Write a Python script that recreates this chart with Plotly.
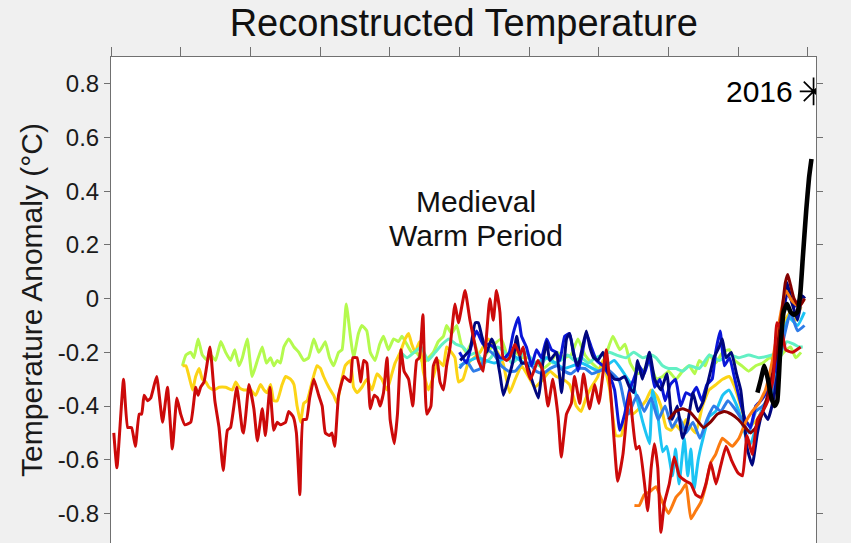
import plotly.graph_objects as go

# ---------------- data (year, anomaly °C) ----------------
red_years = [8,17,36,48,59,70,81,88,95,105,114,131,148,162,176,189,200,212,229,243,250,257,267,284,298,310,322,334,343,361,377,381,396,410,420,434,443,456,467,477,486,501,510,523,532,542,551,561,570,582,596,606,615,627,634,642,653,668,677,687,694,706,717,725,734,744,755,765,772,782,792,801,813,822,832,841,854,866,877,885,895,906,918,925,935,944,954,963,973,987,997,1016,1030,1044,1054,1068,1078,1087,1097,1106,1116,1125,1135,1144,1159,1173,1183,1192,1204,1216,1225,1240,1254,1268,1283,1292,1307,1321,1330,1345,1356,1373,1388,1400,1421,1435,1454,1469,1478,1488,1497,1507,1516,1531,1540,1550,1559,1569,1578,1588,1602,1616,1631,1650,1664,1678,1693,1707,1721,1736,1750,1765,1780,1800,1812,1825,1840,1855,1870,1885,1900,1911,1925,1936,1955,1979]
red_vals = [-0.50,-0.63,-0.30,-0.48,-0.48,-0.55,-0.43,-0.43,-0.36,-0.38,-0.37,-0.29,-0.46,-0.33,-0.56,-0.37,-0.43,-0.47,-0.46,-0.33,-0.36,-0.33,-0.31,-0.18,-0.38,-0.48,-0.64,-0.49,-0.48,-0.33,-0.49,-0.50,-0.32,-0.41,-0.53,-0.41,-0.51,-0.33,-0.49,-0.46,-0.47,-0.46,-0.42,-0.44,-0.50,-0.73,-0.45,-0.45,-0.37,-0.30,-0.36,-0.40,-0.50,-0.51,-0.50,-0.55,-0.36,-0.29,-0.30,-0.31,-0.22,-0.22,-0.31,-0.23,-0.24,-0.41,-0.36,-0.37,-0.40,-0.35,-0.22,-0.45,-0.54,-0.43,-0.19,-0.27,-0.30,-0.40,-0.23,-0.22,-0.06,-0.43,-0.40,-0.25,-0.22,-0.31,-0.34,-0.25,-0.18,-0.02,-0.09,0.03,-0.08,-0.17,-0.23,-0.27,-0.13,0.00,-0.08,0.03,-0.05,-0.22,-0.23,-0.22,-0.17,-0.21,-0.18,-0.25,-0.30,-0.26,-0.23,-0.27,-0.40,-0.30,-0.44,-0.59,-0.43,-0.39,-0.29,-0.39,-0.28,-0.41,-0.32,-0.39,-0.19,-0.37,-0.68,-0.58,-0.46,-0.35,-0.46,-0.56,-0.55,-0.69,-0.79,-0.63,-0.54,-0.63,-0.87,-0.76,-0.69,-0.59,-0.66,-0.68,-0.69,-0.73,-0.74,-0.69,-0.61,-0.69,-0.62,-0.55,-0.60,-0.65,-0.66,-0.51,-0.58,-0.45,-0.42,-0.38,-0.30,-0.09,-0.12,-0.19,-0.20,-0.18]

green_years = [205,215,229,238,250,262,277,286,300,315,329,343,355,367,377,391,405,420,434,446,458,467,477,486,496,510,525,539,553,567,582,596,606,615,627,639,653,663,675,687,696,710,720,734,744,758,771,782,796,811,825,835,849,863,877,896,911,925,939,954,963,977,992,1005,1020,1040,1060,1080,1100,1120,1140,1160,1180,1200,1220,1240,1260,1280,1300,1320,1340,1360,1380,1400,1420,1440,1460,1475,1490,1510,1526,1545,1565,1583,1600,1621,1640,1659,1675,1688,1705,1717,1735,1755,1774,1790,1810,1830,1850,1870,1890,1910,1930,1950,1965,1980]
green_vals = [-0.25,-0.21,-0.20,-0.22,-0.15,-0.21,-0.23,-0.21,-0.23,-0.16,-0.20,-0.23,-0.19,-0.25,-0.22,-0.15,-0.29,-0.23,-0.18,-0.24,-0.22,-0.25,-0.23,-0.24,-0.18,-0.15,-0.18,-0.20,-0.23,-0.22,-0.15,-0.20,-0.18,-0.16,-0.22,-0.25,-0.20,-0.19,-0.02,-0.14,-0.22,-0.13,-0.10,-0.12,-0.20,-0.23,-0.17,-0.14,-0.19,-0.15,-0.16,-0.14,-0.17,-0.20,-0.20,-0.24,-0.22,-0.20,-0.16,-0.14,-0.10,-0.13,-0.10,-0.17,-0.20,-0.15,-0.24,-0.20,-0.17,-0.15,-0.22,-0.20,-0.22,-0.22,-0.24,-0.26,-0.24,-0.20,-0.22,-0.21,-0.15,-0.21,-0.24,-0.26,-0.21,-0.14,-0.19,-0.17,-0.24,-0.28,-0.27,-0.24,-0.30,-0.29,-0.27,-0.30,-0.27,-0.25,-0.28,-0.23,-0.25,-0.21,-0.24,-0.20,-0.19,-0.23,-0.25,-0.27,-0.25,-0.24,-0.22,-0.23,-0.20,-0.18,-0.22,-0.20]

yellow_years = [205,215,224,234,243,253,262,272,281,296,310,329,348,358,367,381,401,415,429,439,448,458,467,477,491,501,515,525,534,544,553,563,577,591,601,610,625,639,649,658,672,687,696,706,720,734,749,763,777,792,806,815,830,844,854,863,873,885,896,911,925,939,954,963,977,987,997,1010,1025,1059,1082,1101,1125,1144,1160,1178,1202,1216,1240,1260,1278,1297,1316,1335,1349,1363,1378,1397,1411,1430,1449,1464,1480,1497,1515,1535,1550,1565,1578,1593,1607,1620,1635,1650,1664,1678,1697,1716,1736,1755,1774,1790,1807,1821,1838,1855,1875,1895,1915,1935,1950,1965,1980]
yellow_vals = [-0.25,-0.25,-0.29,-0.34,-0.29,-0.26,-0.30,-0.31,-0.33,-0.34,-0.33,-0.33,-0.34,-0.31,-0.33,-0.34,-0.34,-0.36,-0.32,-0.34,-0.35,-0.32,-0.38,-0.38,-0.32,-0.29,-0.30,-0.32,-0.40,-0.46,-0.39,-0.38,-0.31,-0.25,-0.26,-0.29,-0.33,-0.36,-0.39,-0.33,-0.25,-0.23,-0.33,-0.35,-0.33,-0.30,-0.34,-0.28,-0.30,-0.34,-0.28,-0.24,-0.20,-0.15,-0.13,-0.17,-0.20,-0.16,-0.27,-0.34,-0.29,-0.23,-0.25,-0.18,-0.20,-0.22,-0.31,-0.30,-0.24,-0.20,-0.15,-0.18,-0.24,-0.35,-0.30,-0.25,-0.30,-0.33,-0.30,-0.27,-0.29,-0.30,-0.32,-0.40,-0.42,-0.37,-0.33,-0.29,-0.23,-0.33,-0.51,-0.51,-0.42,-0.43,-0.41,-0.38,-0.34,-0.36,-0.40,-0.48,-0.49,-0.47,-0.49,-0.45,-0.48,-0.50,-0.40,-0.34,-0.32,-0.30,-0.29,-0.33,-0.40,-0.46,-0.47,-0.45,-0.40,-0.32,-0.22,-0.08,-0.05,-0.08,-0.03]

mint_years = [831,850,870,890,910,930,950,970,990,1010,1030,1050,1070,1090,1110,1130,1150,1170,1190,1210,1230,1250,1270,1290,1310,1330,1350,1370,1390,1410,1430,1450,1478,1500,1526,1550,1564,1583,1600,1621,1640,1660,1688,1717,1745,1774,1802,1830,1859,1897,1920,1940,1960,1974,1985]
mint_vals = [-0.20,-0.22,-0.20,-0.18,-0.23,-0.20,-0.17,-0.15,-0.17,-0.18,-0.21,-0.20,-0.24,-0.22,-0.18,-0.20,-0.24,-0.22,-0.20,-0.23,-0.25,-0.22,-0.24,-0.23,-0.21,-0.23,-0.22,-0.24,-0.22,-0.21,-0.20,-0.21,-0.22,-0.20,-0.22,-0.21,-0.22,-0.25,-0.26,-0.26,-0.27,-0.25,-0.26,-0.21,-0.23,-0.21,-0.22,-0.21,-0.22,-0.21,-0.20,-0.16,-0.17,-0.18,-0.18]

sky_years = [1000,1050,1100,1150,1200,1250,1300,1350,1400,1444,1478,1502,1526,1545,1554,1568,1583,1595,1611,1620,1630,1645,1655,1664,1673,1685,1697,1716,1735,1755,1773,1793,1807,1821,1836,1850,1869,1897,1917,1945,1970,1990]
sky_vals = [-0.25,-0.22,-0.24,-0.21,-0.25,-0.22,-0.26,-0.24,-0.27,-0.23,-0.29,-0.34,-0.46,-0.54,-0.34,-0.42,-0.57,-0.55,-0.66,-0.56,-0.69,-0.52,-0.66,-0.56,-0.71,-0.60,-0.53,-0.44,-0.42,-0.36,-0.34,-0.39,-0.44,-0.51,-0.54,-0.48,-0.41,-0.35,-0.19,-0.07,-0.10,-0.05]

mblue_years = [1000,1020,1040,1060,1080,1100,1120,1140,1160,1180,1200,1220,1240,1260,1280,1300,1320,1340,1360,1380,1400,1420,1440,1460,1475,1485,1495,1510,1530,1550,1570,1590,1610,1630,1650,1670,1690,1710,1730,1750,1770,1790,1810,1830,1850,1870,1890,1910,1930,1950,1970,1990]
mblue_vals = [-0.26,-0.23,-0.27,-0.26,-0.19,-0.21,-0.25,-0.27,-0.27,-0.24,-0.24,-0.27,-0.28,-0.26,-0.25,-0.27,-0.28,-0.26,-0.26,-0.28,-0.27,-0.26,-0.28,-0.31,-0.40,-0.43,-0.40,-0.36,-0.42,-0.37,-0.45,-0.40,-0.48,-0.44,-0.50,-0.46,-0.52,-0.45,-0.40,-0.42,-0.38,-0.41,-0.45,-0.50,-0.42,-0.40,-0.36,-0.30,-0.15,-0.05,-0.12,-0.10]

blue_years = [1000,1020,1035,1049,1068,1083,1097,1116,1130,1143,1154,1169,1178,1192,1207,1221,1235,1250,1264,1278,1288,1302,1316,1326,1340,1350,1364,1378,1393,1412,1431,1445,1460,1474,1488,1500,1515,1530,1545,1560,1575,1590,1605,1620,1635,1650,1665,1680,1695,1710,1725,1735,1748,1760,1775,1790,1805,1820,1835,1850,1865,1880,1895,1910,1925,1940,1950,1960,1970,1980]
blue_vals = [-0.20,-0.24,-0.17,-0.12,-0.17,-0.17,-0.18,-0.22,-0.22,-0.20,-0.13,-0.07,-0.14,-0.18,-0.25,-0.19,-0.22,-0.15,-0.19,-0.20,-0.23,-0.14,-0.13,-0.19,-0.27,-0.22,-0.13,-0.18,-0.23,-0.25,-0.29,-0.34,-0.49,-0.43,-0.34,-0.30,-0.25,-0.28,-0.22,-0.33,-0.30,-0.38,-0.32,-0.30,-0.40,-0.35,-0.36,-0.33,-0.38,-0.32,-0.30,-0.20,-0.12,-0.25,-0.22,-0.30,-0.38,-0.45,-0.48,-0.40,-0.38,-0.35,-0.30,-0.25,-0.10,0.02,0.00,-0.03,-0.02,0.02]

navy_years = [1002,1030,1045,1054,1064,1078,1092,1102,1116,1126,1140,1154,1164,1178,1192,1207,1226,1240,1250,1259,1278,1293,1307,1316,1328,1340,1353,1364,1374,1385,1397,1412,1426,1445,1460,1474,1488,1500,1511,1525,1545,1560,1578,1595,1610,1625,1640,1655,1670,1685,1700,1715,1730,1745,1754,1765,1780,1795,1807,1826,1840,1855,1870,1885,1900,1915,1930,1940,1955,1970,1984,1991]
navy_vals = [-0.23,-0.19,-0.09,-0.09,-0.14,-0.20,-0.15,-0.18,-0.28,-0.36,-0.30,-0.23,-0.14,-0.24,-0.24,-0.30,-0.37,-0.23,-0.16,-0.23,-0.20,-0.35,-0.15,-0.13,-0.21,-0.25,-0.18,-0.12,-0.18,-0.22,-0.23,-0.20,-0.27,-0.30,-0.30,-0.29,-0.33,-0.35,-0.23,-0.30,-0.20,-0.30,-0.34,-0.28,-0.45,-0.40,-0.52,-0.46,-0.35,-0.42,-0.38,-0.30,-0.22,-0.18,-0.15,-0.22,-0.20,-0.28,-0.34,-0.56,-0.62,-0.50,-0.42,-0.45,-0.38,-0.25,-0.05,0.06,-0.02,-0.08,0.01,0.00]

orange_years = [1502,1516,1530,1545,1564,1583,1600,1621,1635,1650,1664,1678,1692,1706,1721,1735,1754,1773,1783,1802,1821,1840,1859,1878,1898,1917,1936,1955,1974,1990]
orange_vals = [-0.77,-0.77,-0.73,-0.72,-0.70,-0.76,-0.80,-0.74,-0.72,-0.69,-0.82,-0.79,-0.76,-0.70,-0.61,-0.58,-0.52,-0.54,-0.55,-0.52,-0.46,-0.42,-0.39,-0.34,-0.23,-0.09,0.03,-0.01,-0.03,0.00]

maroon_years = [1600,1620,1640,1660,1680,1700,1720,1740,1760,1780,1800,1820,1835,1850,1865,1880,1895,1910,1925,1935,1942,1950,1960,1975,1990]
maroon_vals = [-0.45,-0.42,-0.41,-0.42,-0.45,-0.48,-0.46,-0.43,-0.42,-0.43,-0.45,-0.48,-0.50,-0.48,-0.44,-0.38,-0.30,-0.20,-0.05,0.06,0.09,0.05,0.00,-0.03,0.00]

black_years = [1855,1865,1875,1885,1895,1905,1912,1920,1930,1940,1950,1960,1970,1978,1985,1995,2003,2010]
black_vals = [-0.35,-0.30,-0.25,-0.30,-0.37,-0.40,-0.38,-0.20,-0.05,-0.02,-0.05,-0.06,-0.05,0.02,0.15,0.33,0.45,0.52]

marker_year = [2016]
marker_val = [0.772]

y_tickvals = [0.8, 0.6, 0.4, 0.2, 0, -0.2, -0.4, -0.6, -0.8]
y_ticktext = ["0.8", "0.6", "0.4", "0.2", "0", "-0.2", "-0.4", "-0.6", "-0.8"]
x_tickvals = [0, 200, 400, 600, 800, 1000, 1200, 1400, 1600, 1800, 2000]

series = [
    (green_years, green_vals, "#b4fa4e", 3.0),
    (yellow_years, yellow_vals, "#fcd416", 3.0),
    (mint_years, mint_vals, "#62f0c4", 3.0),
    (sky_years, sky_vals, "#1cc4f4", 3.0),
    (mblue_years, mblue_vals, "#2f7ce8", 3.0),
    (blue_years, blue_vals, "#0a16d8", 3.0),
    (navy_years, navy_vals, "#00067e", 3.0),
    (orange_years, orange_vals, "#fb7a10", 3.0),
    (maroon_years, maroon_vals, "#840000", 3.0),
    (red_years, red_vals, "#cc0a0a", 3.0),
    (black_years, black_vals, "#000000", 4.6),
]

fig = go.Figure()
for xs, ys, col, w in series:
    fig.add_trace(go.Scatter(x=xs, y=ys, mode="lines",
                             line=dict(color=col, width=w, shape="spline", smoothing=0.4),
                             hoverinfo="skip", showlegend=False))

fig.add_trace(go.Scatter(x=marker_year, y=marker_val, mode="markers",
                         marker=dict(symbol="asterisk-open", size=23, color="black",
                                     line=dict(color="black", width=1.7)),
                         showlegend=False, hoverinfo="skip"))

font_family = "Liberation Sans, Arial, sans-serif"

fig.add_annotation(x=marker_year[0], y=marker_val[0], xref="x", yref="y",
                   text="2016", showarrow=False, xanchor="right", yanchor="middle",
                   xshift=-19, font=dict(size=30, color="black", family=font_family))

fig.add_annotation(x=1047, y=0.362, xref="x", yref="y",
                   text="Medieval", showarrow=False,
                   xanchor="center", yanchor="middle",
                   font=dict(size=30, color="#111111", family=font_family))
fig.add_annotation(x=1047, y=0.235, xref="x", yref="y",
                   text="Warm Period", showarrow=False,
                   xanchor="center", yanchor="middle",
                   font=dict(size=30, color="#111111", family=font_family))

fig.update_layout(
    width=851, height=543,
    margin=dict(l=111, r=35, t=57, b=0, pad=0),
    paper_bgcolor="#f0f0f0",
    plot_bgcolor="white",
    font=dict(family=font_family, color="#1a1a1a"),
    title=dict(text="Reconstructed Temperature", x=0.545, xanchor="center",
               y=0.958, yanchor="middle",
               font=dict(size=38, color="#111111", family=font_family)),
    xaxis=dict(range=[0, 2023], side="top", showline=True, linecolor="#707070",
               linewidth=1, ticks="outside", ticklen=9, tickcolor="#707070",
               tickvals=x_tickvals, showticklabels=False, showgrid=False,
               zeroline=False, mirror=False),
    yaxis=dict(range=[-0.91, 0.90], showline=True, linecolor="#707070", linewidth=1,
               mirror="ticks", ticks="outside", ticklen=6, tickcolor="#707070",
               tickvals=y_tickvals, ticktext=y_ticktext, showgrid=False,
               zeroline=False, tickfont=dict(size=24, color="#1a1a1a"),
               title=dict(text="Temperature Anomaly (°C)", standoff=6,
                          font=dict(size=30, color="#1a1a1a"))),
)

fig.write_html("out.html")
